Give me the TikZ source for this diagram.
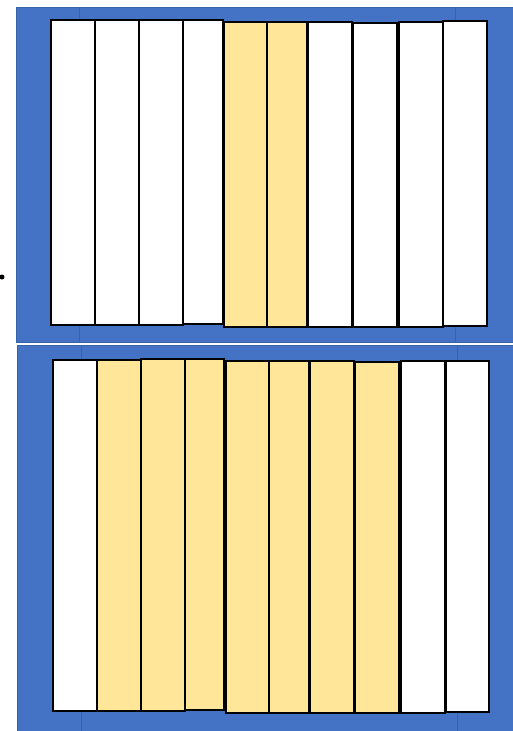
\documentclass[tikz,border=0pt]{standalone}
\usepackage{tikz}
\definecolor{panelblue}{HTML}{4472C4}
\definecolor{paneledge}{HTML}{3A62A8}
\definecolor{stripyellow}{HTML}{FFE699}
\tikzset{
  panel/.style={fill=panelblue, draw=paneledge, line width=0.8pt},
  seam/.style={draw=paneledge, line width=1pt},
  whitestrip/.style={fill=white, draw=black, line width=2pt},
  yellowstrip/.style={fill=stripyellow, draw=black, line width=2pt},
}
\begin{document}
\begin{tikzpicture}[x=1pt,y=-1pt]
\useasboundingbox (0,0) rectangle (512,731);
% top panel
\path[panel] (16,7) rectangle (513,342);
\coordinate (ts1) at (79,7); \coordinate (ts2) at (79,342);
\coordinate (ts3) at (455,7); \coordinate (ts4) at (455,342);
\draw[seam] (ts1) -- (ts2); \draw[seam] (ts3) -- (ts4);
% bottom panel
\path[panel] (17,345) rectangle (513,731);
\coordinate (bs1) at (81,345); \coordinate (bs2) at (81,731);
\coordinate (bs3) at (457,345); \coordinate (bs4) at (457,731);
\draw[seam] (bs1) -- (bs2); \draw[seam] (bs3) -- (bs4);
% top strips
\path[whitestrip] (51,20) rectangle (95,325);
\path[whitestrip] (95,20) rectangle (139,325);
\path[whitestrip] (139,20) rectangle (183,325);
\path[whitestrip] (183,20) rectangle (223,324);
\path[yellowstrip] (224,22) rectangle (267,327);
\path[yellowstrip] (267,22) rectangle (307,327);
\path[whitestrip] (308,22) rectangle (352,327);
\path[whitestrip] (353,23) rectangle (397,327);
\path[whitestrip] (399,22) rectangle (443,327);
\path[whitestrip] (443,21) rectangle (487,326);
% bottom strips
\path[whitestrip] (53,360) rectangle (97,711);
\path[yellowstrip] (97,360) rectangle (141,711);
\path[yellowstrip] (141,359) rectangle (185,711);
\path[yellowstrip] (185,359) rectangle (224,710);
\path[yellowstrip] (226,361) rectangle (269,713);
\path[yellowstrip] (269,361) rectangle (309,713);
\path[yellowstrip] (310,361) rectangle (354,713);
\path[yellowstrip] (355,362) rectangle (399,713);
\path[whitestrip] (401,361) rectangle (445,713);
\path[whitestrip] (446,361) rectangle (489,712);
% dot
\fill[black] (2,277) circle (2.5);
\end{tikzpicture}
\end{document}
